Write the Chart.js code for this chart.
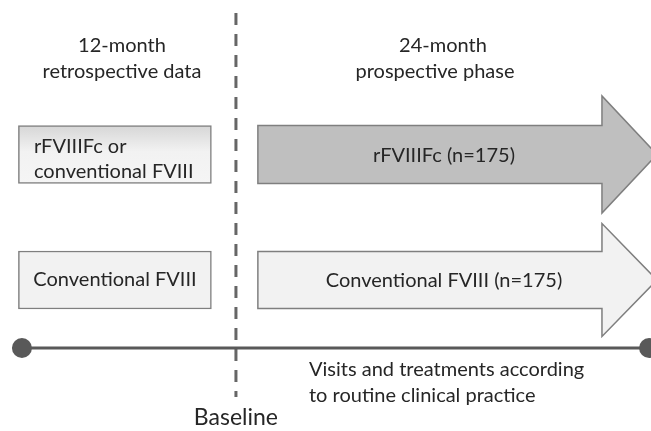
<!DOCTYPE html>
<html>
<head>
<meta charset="utf-8">
<script src="https://cdn.jsdelivr.net/npm/chart.js@4.4.1/dist/chart.umd.min.js"></script>
<style>
    html, body { margin: 0; padding: 0; background: #fff; }
    #wrap { width: 651px; height: 431px; }
</style>
</head>
<body>
<div id="wrap"><canvas id="chart"></canvas></div>
<script>

// data (x in months relative to baseline)
const phaseLabels = [['12-month', 'retrospective data'], ['24-month', 'prospective phase']];
const cohorts = ['rFVIIIFc', 'Conventional FVIII'];
const cohortN = [175, 175];
const retroLabels = [['rFVIIIFc or', 'conventional FVIII'], ['Conventional FVIII']];
const retroSpan = [-12.4, -1.4];
const prospSpan = [1.25, 24];
const timelineSpan = [-12.2, 23.55];
const baselineMonth = 0;
const baselineLabel = 'Baseline';
const followUpText = ['Visits and treatments according', 'to routine clinical practice'];

// layout (y axis is a plain 0..431 layout axis)
const rowY = [154.5, 280];
const arrowBodyHalf = [29, 28.5];
const arrowHeadHalf = [58.5, 56.5];
const arrowHeadLen = 55;
const arrowFill = ['#bfbfbf', '#f2f2f2'];
const lineY = 348;
const dashTop = 13, dashBottom = 397;
const textColor = '#262626';
const font = '20px Lato';

const arrows = {
    id: 'arrows',
    beforeDatasetsDraw(chart) {
        const ctx = chart.ctx;
        const x = chart.scales.x, y = chart.scales.y;
        cohorts.forEach(function (c, i) {
            const x0 = x.getPixelForValue(prospSpan[0]);
            const tip = x.getPixelForValue(prospSpan[1]);
            const notch = tip - arrowHeadLen;
            const cy = y.getPixelForValue(rowY[i]);
            const bh = arrowBodyHalf[i], hh = arrowHeadHalf[i];
            ctx.save();
            ctx.beginPath();
            ctx.moveTo(x0, cy - bh);
            ctx.lineTo(notch, cy - bh);
            ctx.lineTo(notch, cy - hh);
            ctx.lineTo(tip, cy);
            ctx.lineTo(notch, cy + hh);
            ctx.lineTo(notch, cy + bh);
            ctx.lineTo(x0, cy + bh);
            ctx.closePath();
            ctx.fillStyle = arrowFill[i];
            ctx.fill();
            ctx.lineWidth = 1.5;
            ctx.strokeStyle = '#7f7f7f';
            ctx.stroke();
            ctx.restore();
        });
    },
    afterDraw(chart) {
        const ctx = chart.ctx;
        const x = chart.scales.x, y = chart.scales.y;
        ctx.save();
        ctx.fillStyle = textColor;
        ctx.font = font;
        ctx.textBaseline = 'middle';

        // phase headers
        ctx.textAlign = 'center';
        ctx.fillText(phaseLabels[0][0], 122, 46);
        ctx.fillText(phaseLabels[0][1], 122, 72);
        ctx.fillText(phaseLabels[1][0], 443, 46);
        ctx.fillText(phaseLabels[1][1], 435, 72);

        // retrospective boxes
        ctx.textAlign = 'left';
        ctx.fillText(retroLabels[0][0], 34, 147);
        ctx.fillText(retroLabels[0][1], 34, 172);
        ctx.textAlign = 'center';
        ctx.fillText(retroLabels[1][0], 115, y.getPixelForValue(rowY[1]));

        // prospective arrows
        cohorts.forEach(function (c, i) {
            ctx.fillText(c + ' (n=' + cohortN[i] + ')', 444, y.getPixelForValue(rowY[i]) + 1);
        });

        // follow-up note
        ctx.textAlign = 'left';
        ctx.fillText(followUpText[0], 309, 370);
        ctx.fillText(followUpText[1], 309, 396);

        // baseline label
        ctx.textAlign = 'center';
        ctx.font = '23px Lato';
        ctx.fillText(baselineLabel, x.getPixelForValue(baselineMonth), 418);
        ctx.restore();
    }
};

const data_diagram = {
    datasets: [{
        type: 'line',
        label: 'timeline',
        data: [{ x: timelineSpan[0], y: lineY }, { x: timelineSpan[1], y: lineY }],
        borderColor: '#595959',
        borderWidth: 3,
        pointRadius: 10,
        pointBackgroundColor: '#595959',
        pointBorderWidth: 0,
        clip: false,
        order: 1,
    }, {
        type: 'line',
        label: 'baseline',
        data: [{ x: baselineMonth, y: dashTop }, { x: baselineMonth, y: dashBottom }],
        borderColor: '#666666',
        borderWidth: 3,
        borderDash: [12, 9],
        pointRadius: 0,
        order: 2,
    }, {
        type: 'bar',
        label: 'retrospective',
        data: rowY.map(function (r) { return { x: retroSpan, y: r }; }),
        backgroundColor: function (c) {
            if (c.dataIndex !== 0 || !c.chart.chartArea) return '#f2f2f2';
            const y = c.chart.scales.y;
            const g = c.chart.ctx.createLinearGradient(0, y.getPixelForValue(rowY[0] - 29), 0, y.getPixelForValue(rowY[0] + 29));
            g.addColorStop(0, '#d6d6d6');
            g.addColorStop(0.45, '#f2f2f2');
            g.addColorStop(1, '#f5f5f5');
            return g;
        },
        borderColor: '#7f7f7f',
        borderWidth: 1.5,
        borderSkipped: false,
        barThickness: 58,
        order: 3,
    }],
};

const config_diagram = {
    type: 'bar',
    data: data_diagram,
    options: {
        indexAxis: 'y',
        responsive: true,
        maintainAspectRatio: false,
        animation: false,
        layout: { padding: 0, autoPadding: false },
        plugins: {
            legend: { display: false },
            tooltip: { enabled: false },
        },
        scales: {
            x: { type: 'linear', min: -13.45, max: 23.66, display: false, offset: false, grace: 0 },
            y: { type: 'linear', min: 0, max: 431, reverse: true, display: false, offset: false, grace: 0 },
        },
    },
    plugins: [arrows],
};

const ctx_diagram = document.getElementById('chart').getContext('2d');
const diagram = new Chart(ctx_diagram, config_diagram);
</script>
</body>
</html>
